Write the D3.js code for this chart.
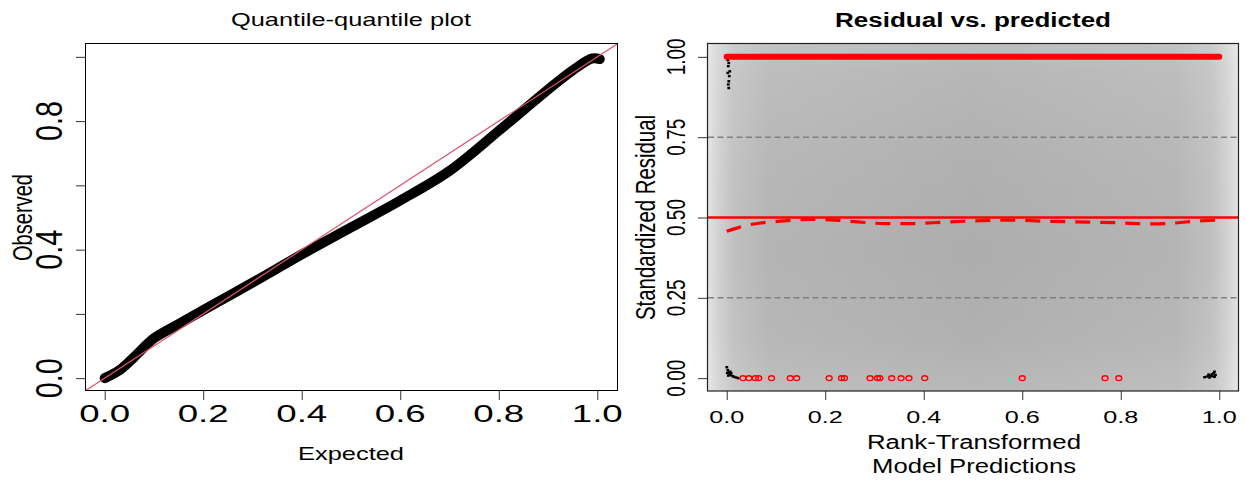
<!DOCTYPE html>
<html>
<head>
<meta charset="utf-8">
<script src="https://cdn.jsdelivr.net/npm/d3@7"></script>
<style>
  body { margin: 0; background: #fff; }
  svg text { font-family: "Liberation Sans", Arial, Helvetica, sans-serif; fill: #000; }
</style>
</head>
<body>
<div id="chart"></div>
<script>
// --- data ---
const qqExpected = [0.0, 0.03, 0.06, 0.1, 0.15, 0.2, 0.3, 0.4, 0.5, 0.6, 0.7, 0.8, 0.85, 0.9, 0.95, 0.99, 1.005];
const qqObserved = [0.0, 0.025, 0.066, 0.124, 0.168, 0.212, 0.297, 0.385, 0.469, 0.553, 0.645, 0.770, 0.834, 0.898, 0.958, 0.995, 0.993];

const qqXTicks = [0, 0.2, 0.4, 0.6, 0.8, 1.0];
const qqYTicks = [0, 0.2, 0.4, 0.6, 0.8, 1.0];
const qqYLabels = [0, 0.4, 0.8];

const resXTicks = [0, 0.2, 0.4, 0.6, 0.8, 1.0];
const resYTicks = [0, 0.25, 0.5, 0.75, 1.0];
const resRefLines = [0.25, 0.75];

// quantile regression (dashed red) around 0.5
const quantX = [0.0, 0.048, 0.109, 0.165, 0.219, 0.265, 0.321, 0.372, 0.443, 0.535, 0.585, 0.642, 0.699, 0.798, 0.855, 0.890, 0.954, 1.0];
const quantY = [0.457, 0.478, 0.4885, 0.494, 0.492, 0.4865, 0.481, 0.481, 0.4855, 0.491, 0.492, 0.4886, 0.4865, 0.4834, 0.480, 0.481, 0.4886, 0.492];

// outliers at the bottom (red circles)
const lowOutlierX = [0.033, 0.045, 0.058, 0.065, 0.091, 0.129, 0.142, 0.208, 0.233, 0.239, 0.291, 0.306, 0.311, 0.335, 0.354, 0.370, 0.402, 0.600, 0.768, 0.796];
// outliers at the top form a solid band over this range
const highOutlierRange = [0.0, 1.0];

// black residual points visible near the corners
const blackX = [0.002, 0.004, 0.003, 0.006, 0.002, 0.005, 0.004, 0.003, 0.004,
                0.0, 0.002, 0.004, 0.006, 0.009, 0.012, 0.015, 0.019, 0.023, 0.003, 0.007, 0.001, 0.008,
                0.970, 0.975, 0.980, 0.985, 0.990, 0.988, 0.992, 0.980, 0.990, 0.985, 0.978];
const blackY = [0.990, 0.981, 0.971, 0.955, 0.950, 0.940, 0.924, 0.914, 0.903,
                0.034, 0.025, 0.018, 0.012, 0.015, 0.006, 0.004, 0.002, 0.0, 0.008, 0.02, 0.016, 0.009,
                0.003, 0.005, 0.008, 0.012, 0.020, 0.015, 0.010, 0.002, 0.004, 0.006, 0.011];

document.addEventListener("DOMContentLoaded", setup);

function setup() {
  const svg = d3.select("#chart").append("svg")
    .attr("width", 1245)
    .attr("height", 480);

  svg.append("rect").attr("width", 1245).attr("height", 480).attr("fill", "#fff");

  drawQQ(svg);
  drawResiduals(svg);
}

// text helper: stretched glyphs like the original picture
function label(g, txt, x, y, size, len, opts = {}) {
  const t = g.append("text")
    .attr("x", x)
    .attr("y", y)
    .attr("font-size", size)
    .attr("text-anchor", "middle")
    .attr("textLength", len)
    .attr("lengthAdjust", "spacingAndGlyphs")
    .text(txt);
  if (opts.bold) t.attr("font-weight", "bold");
  if (opts.rotate) t.attr("transform", `rotate(-90,${x},${y})`);
  return t;
}

// --- QQ plot ---
function drawQQ(svg) {
  const x = d3.scaleLinear().domain([-0.04, 1.04]).range([85, 617]);
  const y = d3.scaleLinear().domain([-0.04, 1.04]).range([391, 44]);
  const g = svg.append("g");

  g.append("clipPath").attr("id", "clipQQ")
    .append("rect").attr("x", 85).attr("y", 44).attr("width", 532).attr("height", 347);

  // observed vs expected (points overplot into a thick band)
  const pts = qqExpected.map((e, i) => [e, qqObserved[i]]);
  g.append("path")
    .datum(pts)
    .attr("d", d3.line().x(d => x(d[0])).y(d => y(d[1])).curve(d3.curveCatmullRom))
    .attr("fill", "none")
    .attr("stroke", "#000")
    .attr("stroke-width", 10)
    .attr("stroke-linecap", "round")
    .attr("stroke-linejoin", "round");

  // 1:1 line
  g.append("line")
    .attr("clip-path", "url(#clipQQ)")
    .attr("x1", x(-0.04)).attr("y1", y(-0.04))
    .attr("x2", x(1.04)).attr("y2", y(1.04))
    .attr("stroke", "#DF536B")
    .attr("stroke-width", 1.2);

  // axes (ticks only, labels drawn by hand)
  g.append("g")
    .attr("transform", "translate(0,391)")
    .call(d3.axisBottom(x).tickValues(qqXTicks).tickSize(9).tickFormat(""))
    .call(a => a.select(".domain").remove())
    .selectAll("line").attr("stroke", "#333");
  g.append("g")
    .attr("transform", "translate(85,0)")
    .call(d3.axisLeft(y).tickValues(qqYTicks).tickSize(9).tickFormat(""))
    .call(a => a.select(".domain").remove())
    .selectAll("line").attr("stroke", "#333");

  qqXTicks.forEach(v => label(g, v.toFixed(1), x(v), 422, 24, 51));
  qqYLabels.forEach(v => label(g, v.toFixed(1), 62, y(v), 37, 40, { rotate: true }));

  g.append("rect")
    .attr("x", 85.5).attr("y", 43.5).attr("width", 532).attr("height", 347)
    .attr("fill", "none").attr("stroke", "#000").attr("stroke-width", 1);

  label(g, "Quantile-quantile plot", 351, 26, 19, 240);
  label(g, "Expected", 351, 460, 19, 106);
  label(g, "Observed", 32, 217.5, 27, 87, { rotate: true });
}

// --- residual vs predicted ---
function drawResiduals(svg) {
  const x = d3.scaleLinear().domain([-0.04, 1.04]).range([707, 1239]);
  const y = d3.scaleLinear().domain([-0.04, 1.04]).range([391, 44]);
  const g = svg.append("g");

  // density shading of the background
  const defs = g.append("defs");
  const hg = defs.append("linearGradient").attr("id", "bgH");
  [[0, "#e4e4e4"], [0.02, "#d2d2d2"], [0.05, "#c0c0c0"], [0.12, "#b4b4b4"], [0.5, "#adadad"],
   [0.88, "#b4b4b4"], [0.95, "#c0c0c0"], [0.98, "#d2d2d2"], [1, "#e4e4e4"]]
    .forEach(([o, c]) => hg.append("stop").attr("offset", o).attr("stop-color", c));
  const vg = defs.append("linearGradient").attr("id", "bgV")
    .attr("x1", 0).attr("y1", 0).attr("x2", 0).attr("y2", 1);
  [[0, 0.2], [0.08, 0.12], [0.35, 0.04], [0.6, 0.0], [0.85, 0.04], [1, 0.14]]
    .forEach(([o, a]) => vg.append("stop").attr("offset", o).attr("stop-color", "#fff").attr("stop-opacity", a));

  g.append("rect").attr("x", 707).attr("y", 44).attr("width", 532).attr("height", 347).attr("fill", "url(#bgH)");
  g.append("rect").attr("x", 707).attr("y", 44).attr("width", 532).attr("height", 347).attr("fill", "url(#bgV)");

  // reference lines at 0.25 / 0.75
  g.selectAll(".ref")
    .data(resRefLines)
    .enter()
    .append("line")
    .attr("x1", 708).attr("x2", 1238)
    .attr("y1", d => y(d)).attr("y2", d => y(d))
    .attr("stroke", "#808080")
    .attr("stroke-width", 1.6)
    .attr("stroke-dasharray", "6,3.5");

  // black residual points
  g.selectAll(".pt")
    .data(blackX.map((v, i) => [v, blackY[i]]))
    .enter()
    .append("rect")
    .attr("x", d => x(d[0]) - 1.3)
    .attr("y", d => y(d[1]) - 1.2)
    .attr("width", 2.8)
    .attr("height", 2.4)
    .attr("fill", "#000");

  // top outliers: overplotted red circles
  g.append("line")
    .attr("x1", x(highOutlierRange[0])).attr("x2", x(highOutlierRange[1]))
    .attr("y1", y(1)).attr("y2", y(1))
    .attr("stroke", "#ff0000")
    .attr("stroke-width", 6)
    .attr("stroke-linecap", "round");

  // bottom outliers
  g.selectAll(".low")
    .data(lowOutlierX)
    .enter()
    .append("ellipse")
    .attr("cx", d => x(d))
    .attr("cy", y(0))
    .attr("rx", 3)
    .attr("ry", 2.4)
    .attr("fill", "none")
    .attr("stroke", "#ff0000")
    .attr("stroke-width", 1.3);

  // 0.5 line
  g.append("line")
    .attr("x1", 707).attr("x2", 1239)
    .attr("y1", y(0.5)).attr("y2", y(0.5))
    .attr("stroke", "#ff0000")
    .attr("stroke-width", 2.6);

  // quantile fit
  g.append("path")
    .datum(quantX.map((v, i) => [v, quantY[i]]))
    .attr("d", d3.line().x(d => x(d[0])).y(d => y(d[1])).curve(d3.curveMonotoneX))
    .attr("fill", "none")
    .attr("stroke", "#ff0000")
    .attr("stroke-width", 3.2)
    .attr("stroke-dasharray", "15,10");

  g.append("g")
    .attr("transform", "translate(0,391)")
    .call(d3.axisBottom(x).tickValues(resXTicks).tickSize(9).tickFormat(""))
    .call(a => a.select(".domain").remove())
    .selectAll("line").attr("stroke", "#333");
  g.append("g")
    .attr("transform", "translate(707,0)")
    .call(d3.axisLeft(y).tickValues(resYTicks).tickSize(9).tickFormat(""))
    .call(a => a.select(".domain").remove())
    .selectAll("line").attr("stroke", "#333");

  resXTicks.forEach(v => label(g, v.toFixed(1), x(v), 423, 16, 35));
  resYTicks.forEach(v => label(g, v.toFixed(2), 685, y(v), 25, 37, { rotate: true }));

  g.append("rect")
    .attr("x", 707.5).attr("y", 43.5).attr("width", 531).attr("height", 347.5)
    .attr("fill", "none").attr("stroke", "#222").attr("stroke-width", 1.2);

  label(g, "Residual vs. predicted", 973, 27, 20, 276, { bold: true });
  label(g, "Rank-Transformed", 974, 449, 20, 214);
  label(g, "Model Predictions", 974, 473, 20, 204);
  label(g, "Standardized Residual", 655, 217.5, 28, 205, { rotate: true });
}
</script>
</body>
</html>
